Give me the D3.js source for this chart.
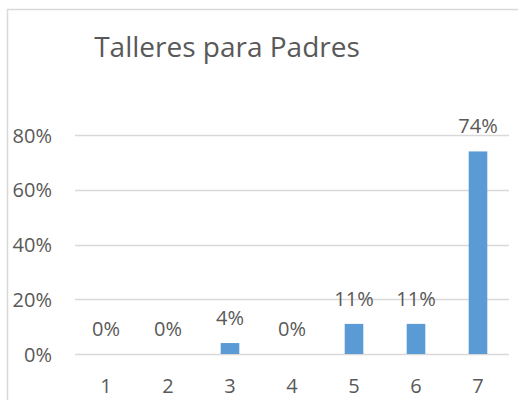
<!DOCTYPE html>
<html><head><meta charset="utf-8">
<script src="https://cdn.jsdelivr.net/npm/d3@7"></script>
<style>body{margin:0;background:#fff}svg{display:block}</style>
</head><body>
<svg id="c" width="518" height="400"></svg>
<script>
const title = "Talleres para Padres";
const categories = ["1","2","3","4","5","6","7"];
const values = [0, 0, 0.04, 0, 0.11, 0.11, 0.74];
const yTicks = [0, 0.2, 0.4, 0.6, 0.8];

const svg = d3.select("#c");
const font = "'Open Sans', sans-serif";
const textColor = "#595959";

// chart area border
svg.append("rect").attr("x",7.5).attr("y",9.5).attr("width",530).attr("height",420)
  .attr("fill","#fff").attr("stroke","#D9D9D9").attr("stroke-width",1.5);

const x = d3.scaleBand().domain(categories).range([75,509]).paddingInner(0.7).paddingOuter(0.35);
const y = d3.scaleLinear().domain([0,0.8]).range([354,135]);

// gridlines
svg.append("g").selectAll("line").data(yTicks).join("line")
  .attr("x1",75).attr("x2",509).attr("y1",d=>Math.round(y(d))+0.5).attr("y2",d=>Math.round(y(d))+0.5)
  .attr("stroke","#D9D9D9").attr("stroke-width",1.3);

// y axis
const yAxis = d3.axisLeft(y).tickValues(yTicks).tickFormat(d3.format(".0%")).tickSize(0).tickPadding(0);
const gy = svg.append("g").attr("transform","translate(52,0)").call(yAxis);
gy.select(".domain").remove();
gy.selectAll("text").attr("font-family",font).attr("font-size",20).attr("fill",textColor).attr("dy","0.35em");

// x axis
const xAxis = d3.axisBottom(x).tickSize(0).tickPadding(0);
const gx = svg.append("g").attr("transform","translate(0,393)").call(xAxis);
gx.select(".domain").remove();
gx.selectAll("text").attr("font-family",font).attr("font-size",20).attr("fill",textColor).attr("dy",0);

// bars
svg.append("g").selectAll("rect").data(values).join("rect")
  .attr("x",(d,i)=>x(categories[i])).attr("width",x.bandwidth())
  .attr("y",d=>y(d)).attr("height",d=>y(0)-y(d)).attr("fill","#5B9BD5");

// data labels
svg.append("g").selectAll("text").data(values).join("text")
  .attr("x",(d,i)=>x(categories[i])+x.bandwidth()/2)
  .attr("y",d=>y(d)-18)
  .attr("text-anchor","middle").attr("font-family",font).attr("font-size",20).attr("fill",textColor)
  .text(d=>d3.format(".0%")(d));

// title
svg.append("text").attr("x",227).attr("y",57).attr("text-anchor","middle")
  .attr("font-family",font).attr("font-size",28).attr("fill",textColor).text(title);
</script>
</body></html>
